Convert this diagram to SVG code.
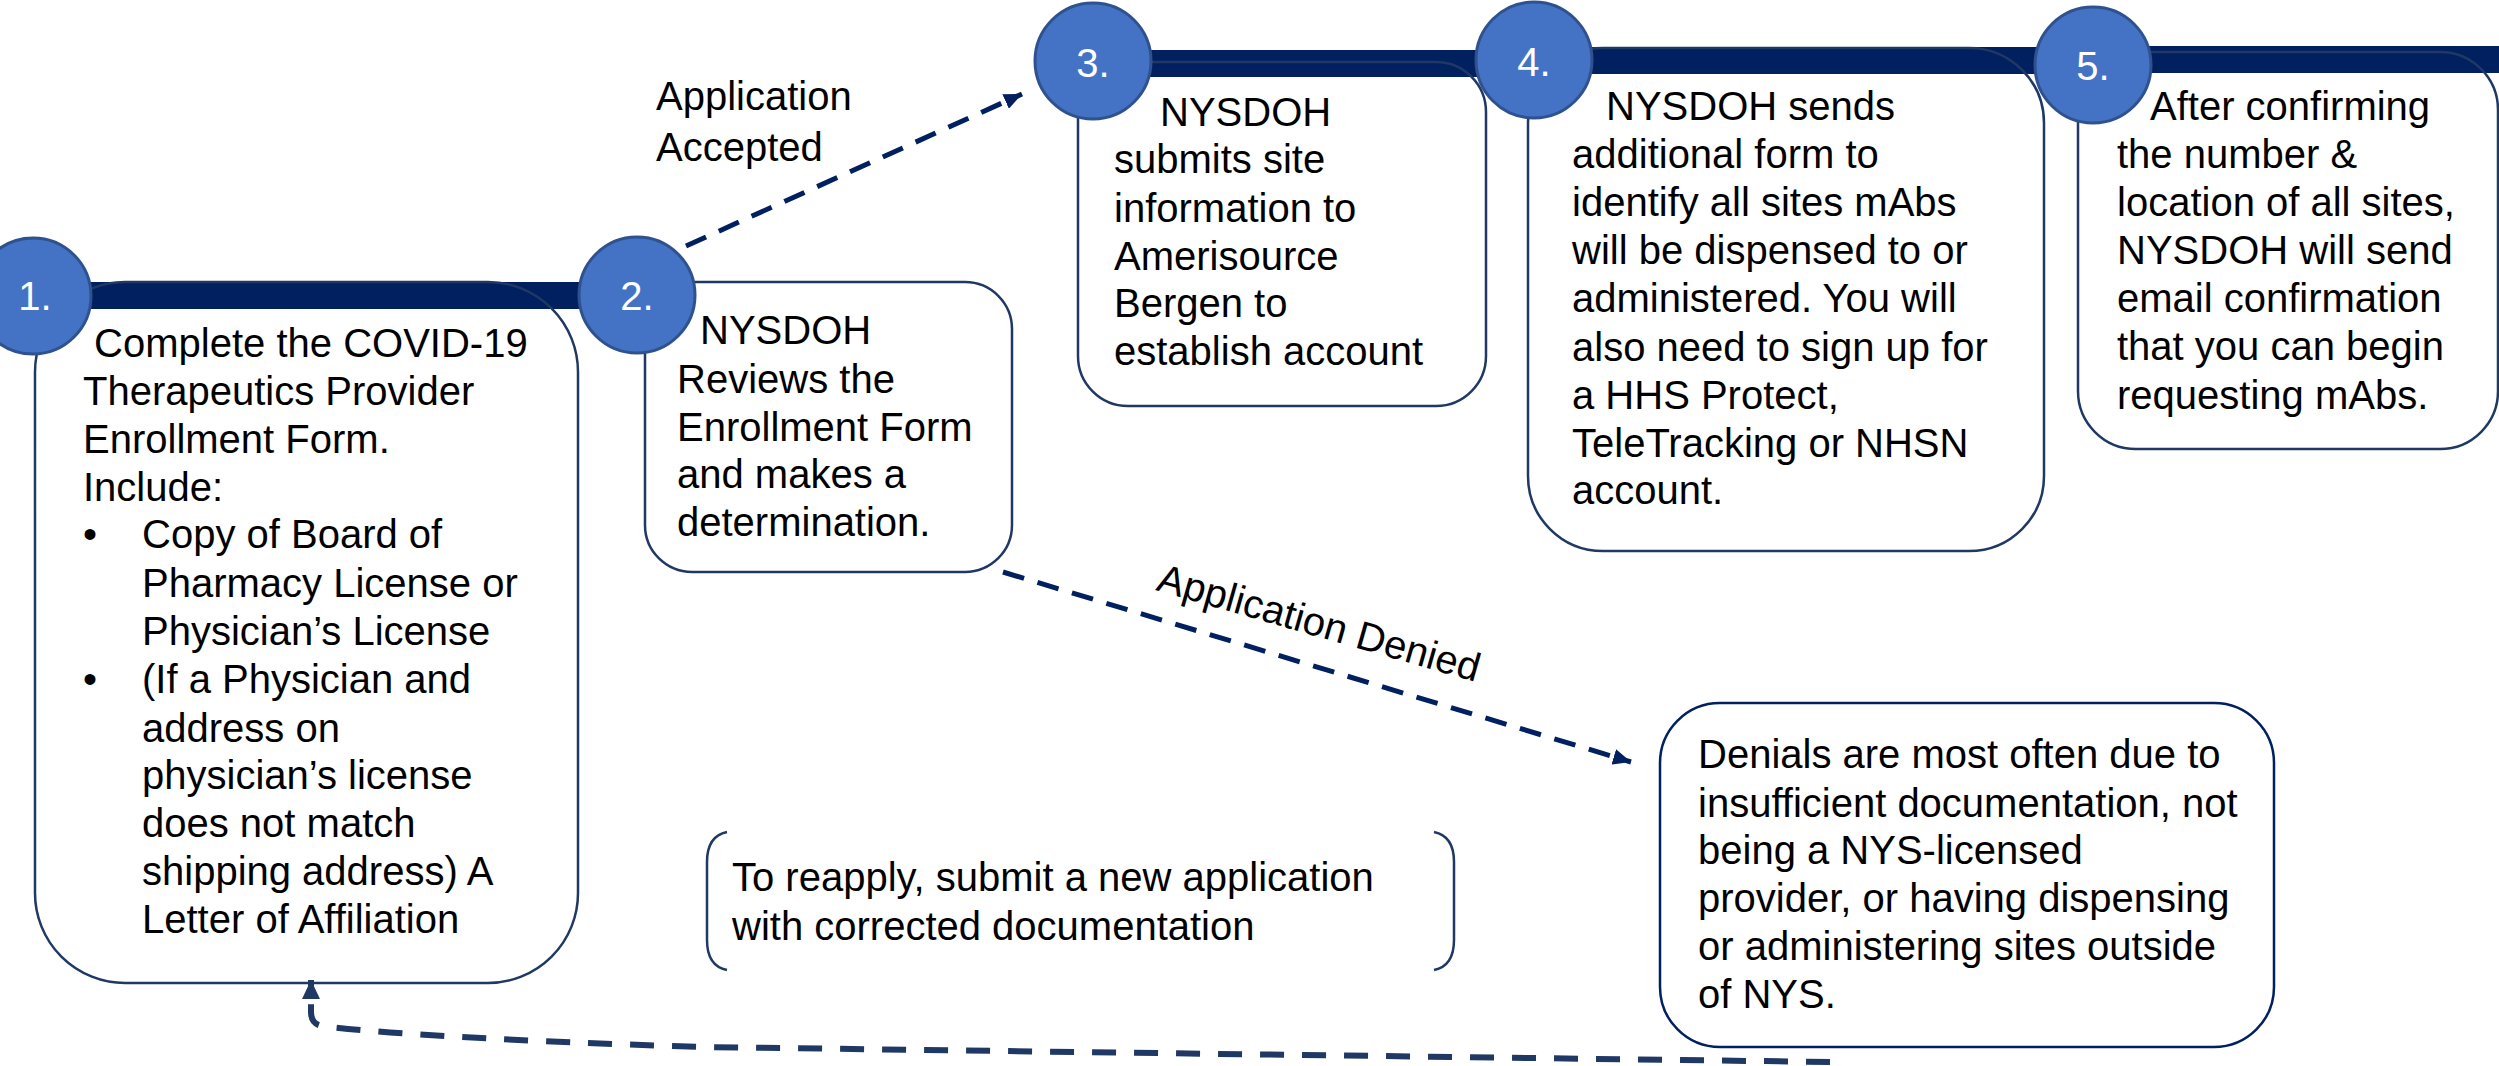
<svg xmlns="http://www.w3.org/2000/svg" width="2499" height="1066" viewBox="0 0 2499 1066">
<defs>
<style>
.t{font-family:"Liberation Sans",Arial,sans-serif;font-size:40px;fill:#000}
.n{font-family:"Liberation Sans",Arial,sans-serif;font-size:40px;fill:#fff;text-anchor:middle}
.bf{fill:#fff;stroke:none}
.bs{fill:none;stroke:#1F3864;stroke-width:2.5}
.bar{fill:#002060}
.c{fill:#4472C4;stroke:#2F528F;stroke-width:3}
.dash{fill:none;stroke:#002060;stroke-width:5;stroke-dasharray:22 14}
.ret{fill:none;stroke:#1F3864;stroke-width:6;stroke-dasharray:24 18}
</style>
<marker id="ah" markerUnits="userSpaceOnUse" markerWidth="20" markerHeight="16" refX="18" refY="8" orient="auto">
<path d="M0,0 L18,8 L0,16 z" fill="#002060"/>
</marker>
<marker id="ah2" markerUnits="userSpaceOnUse" markerWidth="20" markerHeight="18" refX="19" refY="9" orient="auto">
<path d="M0,0 L19,9 L0,18 z" fill="#1F3864"/>
</marker>
</defs>
<rect width="2499" height="1066" fill="#fff"/>

<!-- box fills -->
<rect class="bf" x="35" y="282" width="543" height="701" rx="90"/>
<rect class="bf" x="645" y="282" width="367" height="290" rx="47"/>
<rect class="bf" x="1078" y="62" width="408" height="344" rx="50"/>
<rect class="bf" x="1528" y="48" width="516" height="503" rx="75"/>
<rect class="bf" x="2078" y="52" width="420" height="397" rx="58"/>

<!-- bars -->
<g id="bars">
<rect class="bar" x="33" y="282" width="604" height="27"/>
<rect class="bar" x="1093" y="50" width="442" height="27"/>
<rect class="bar" x="1535" y="47" width="559" height="27"/>
<rect class="bar" x="2094" y="46" width="405" height="27"/>
</g>

<g id="step1">
<rect class="bs" x="35" y="282" width="543" height="701" rx="90"/>
<circle class="c" cx="33" cy="296" r="58"/>
<text class="n" x="35" y="310">1.</text>
<text class="t" xml:space="preserve"><tspan x="83" y="357"> Complete the COVID-19</tspan><tspan x="83" y="405">Therapeutics Provider</tspan><tspan x="83" y="453">Enrollment Form.</tspan><tspan x="83" y="501">Include:</tspan><tspan x="83" y="548">•</tspan><tspan x="142" y="548">Copy of Board of</tspan><tspan x="142" y="597">Pharmacy License or</tspan><tspan x="142" y="645">Physician’s License</tspan><tspan x="83" y="693">•</tspan><tspan x="142" y="693">(If a Physician and</tspan><tspan x="142" y="742">address on</tspan><tspan x="142" y="789">physician’s license</tspan><tspan x="142" y="837">does not match</tspan><tspan x="142" y="885">shipping address) A</tspan><tspan x="142" y="933">Letter of Affiliation</tspan></text>
</g>

<g id="step2">
<rect class="bs" x="645" y="282" width="367" height="290" rx="47"/>
<circle class="c" cx="637" cy="295" r="58"/>
<text class="n" x="637" y="310">2.</text>
<text class="t"><tspan x="700" y="344">NYSDOH</tspan><tspan x="677" y="393">Reviews the</tspan><tspan x="677" y="441">Enrollment Form</tspan><tspan x="677" y="488">and makes a</tspan><tspan x="677" y="536">determination.</tspan></text>
</g>

<g id="step3">
<rect class="bs" x="1078" y="62" width="408" height="344" rx="50"/>
<circle class="c" cx="1093" cy="61" r="58"/>
<text class="n" x="1093" y="77">3.</text>
<text class="t"><tspan x="1160" y="126">NYSDOH</tspan><tspan x="1114" y="173">submits site</tspan><tspan x="1114" y="222">information to</tspan><tspan x="1114" y="270">Amerisource</tspan><tspan x="1114" y="317">Bergen to</tspan><tspan x="1114" y="365">establish account</tspan></text>
</g>

<g id="step4">
<rect class="bs" x="1528" y="48" width="516" height="503" rx="75"/>
<circle class="c" cx="1534" cy="60" r="58"/>
<text class="n" x="1534" y="76">4.</text>
<text class="t"><tspan x="1606" y="120">NYSDOH sends</tspan><tspan x="1572" y="168">additional form to</tspan><tspan x="1572" y="216">identify all sites mAbs</tspan><tspan x="1572" y="264">will be dispensed to or</tspan><tspan x="1572" y="312">administered. You will</tspan><tspan x="1572" y="361">also need to sign up for</tspan><tspan x="1572" y="409">a HHS Protect,</tspan><tspan x="1572" y="457">TeleTracking or NHSN</tspan><tspan x="1572" y="504">account.</tspan></text>
</g>

<g id="step5">
<rect class="bs" x="2078" y="52" width="420" height="397" rx="58"/>
<circle class="c" cx="2093" cy="65" r="58"/>
<text class="n" x="2093" y="80">5.</text>
<text class="t"><tspan x="2150" y="120">After confirming</tspan><tspan x="2117" y="168">the number &amp;</tspan><tspan x="2117" y="216">location of all sites,</tspan><tspan x="2117" y="264">NYSDOH will send</tspan><tspan x="2117" y="312">email confirmation</tspan><tspan x="2117" y="360">that you can begin</tspan><tspan x="2117" y="409">requesting mAbs.</tspan></text>
</g>

<g id="denial">
<rect x="1660" y="703" width="614" height="344" rx="60" fill="#fff" stroke="#002060" stroke-width="2.5"/>
<text class="t"><tspan x="1698" y="768">Denials are most often due to</tspan><tspan x="1698" y="817">insufficient documentation, not</tspan><tspan x="1698" y="864">being a NYS-licensed</tspan><tspan x="1698" y="912">provider, or having dispensing</tspan><tspan x="1698" y="960">or administering sites outside</tspan><tspan x="1698" y="1008">of NYS.</tspan></text>
</g>

<g id="reapply">
<path class="bs" d="M727,832 Q707,836 707,862 L707,940 Q707,966 727,970"/>
<path class="bs" d="M1434,832 Q1454,836 1454,862 L1454,940 Q1454,966 1434,970"/>
<text class="t"><tspan x="732" y="891">To reapply, submit a new application</tspan><tspan x="732" y="940">with corrected documentation</tspan></text>
</g>

<g id="connectors">
<path class="dash" d="M686,246 L1022,94" marker-end="url(#ah)"/>
<text class="t"><tspan x="656" y="110">Application</tspan><tspan x="656" y="161">Accepted</tspan></text>
<path class="dash" d="M1003,572 L1631,762" marker-end="url(#ah)"/>
<text class="t" transform="translate(1155,590) rotate(16)">Application Denied</text>
<path class="ret" d="M1830,1062 L700,1047 Q420,1038 322,1026 Q311,1024 311,1012 L311,980" marker-end="url(#ah2)"/>
</g>
</svg>
